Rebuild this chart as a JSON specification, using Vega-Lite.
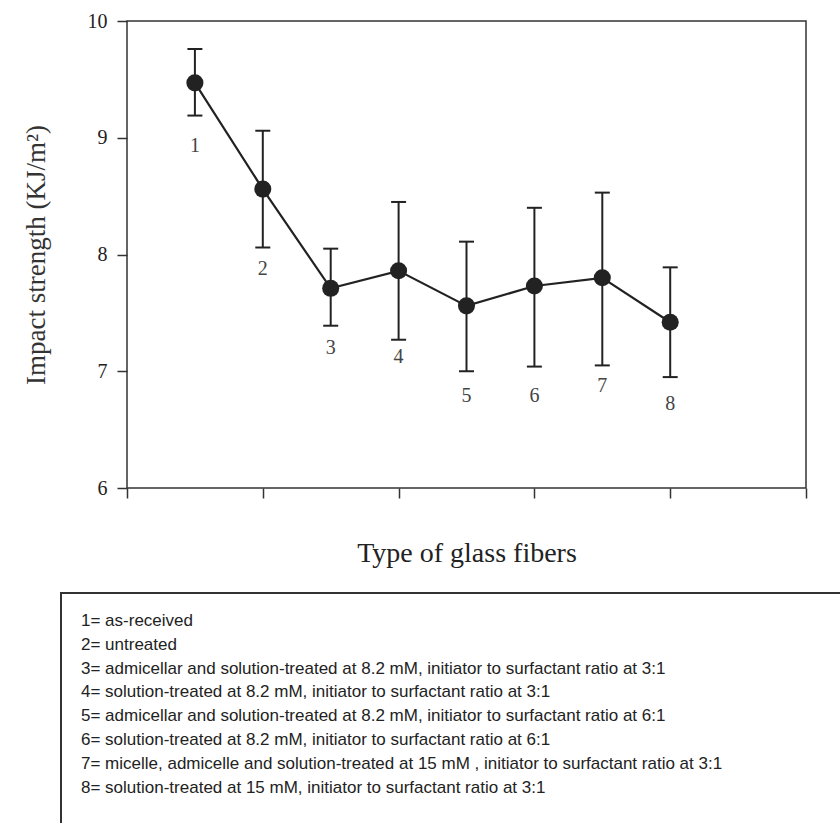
{
  "$schema": "https://vega.github.io/schema/vega-lite/v6.json",
  "padding": {"left": 21, "top": 10, "right": 0, "bottom": 0},
  "config": {
    "view": {"stroke": "#333333", "strokeWidth": 1.5},
    "font": "Liberation Serif",
    "axis": {"grid": false}
  },
  "datasets": {
    "pts": [
      {"type": "1", "x": 0.5, "mean": 9.47, "lo": 9.19, "hi": 9.76, "ly": 8.93},
      {"type": "2", "x": 1.0, "mean": 8.56, "lo": 8.06, "hi": 9.06, "ly": 7.875},
      {"type": "3", "x": 1.5, "mean": 7.71, "lo": 7.39, "hi": 8.05, "ly": 7.2},
      {"type": "4", "x": 2.0, "mean": 7.86, "lo": 7.27, "hi": 8.45, "ly": 7.12},
      {"type": "5", "x": 2.5, "mean": 7.56, "lo": 7.0, "hi": 8.11, "ly": 6.79},
      {"type": "6", "x": 3.0, "mean": 7.73, "lo": 7.04, "hi": 8.4, "ly": 6.79},
      {"type": "7", "x": 3.5, "mean": 7.8, "lo": 7.05, "hi": 8.53, "ly": 6.87},
      {"type": "8", "x": 4.0, "mean": 7.42, "lo": 6.95, "hi": 7.89, "ly": 6.72}
    ],
    "legend": [
      {"line": 1, "text": "1= as-received"},
      {"line": 2, "text": "2= untreated"},
      {"line": 3, "text": "3= admicellar and solution-treated at 8.2 mM, initiator to surfactant ratio at 3:1"},
      {"line": 4, "text": "4= solution-treated at 8.2 mM, initiator to surfactant ratio at 3:1"},
      {"line": 5, "text": "5= admicellar and solution-treated  at 8.2 mM, initiator to surfactant ratio at  6:1"},
      {"line": 6, "text": "6= solution-treated at 8.2 mM, initiator to surfactant ratio at 6:1"},
      {"line": 7, "text": "7= micelle, admicelle and solution-treated at 15 mM , initiator to surfactant ratio at  3:1"},
      {"line": 8, "text": "8= solution-treated at 15 mM, initiator to surfactant ratio at 3:1"}
    ]
  },
  "spacing": 23,
  "vconcat": [
    {
      "width": 679,
      "height": 467,
      "data": {"name": "pts"},
      "encoding": {
        "x": {
          "field": "x", "type": "quantitative",
          "scale": {"domain": [0, 5], "nice": false, "zero": false},
          "axis": {
            "values": [0, 1, 2, 3, 4, 5], "labels": false, "tickSize": 10,
            "tickColor": "#333333", "tickWidth": 1.5, "domain": false,
            "title": "Type of glass fibers", "titleFontSize": 28,
            "titleFontWeight": "normal", "titleColor": "#222222", "titlePadding": 41
          }
        }
      },
      "layer": [
        {
          "mark": {"type": "rule", "color": "#222222", "strokeWidth": 2},
          "encoding": {
            "y": {
              "field": "lo", "type": "quantitative",
              "scale": {"domain": [6, 10], "nice": false, "zero": false},
              "axis": {
                "values": [6, 7, 8, 9, 10], "format": "d", "tickSize": 10, "tickColor": "#333333",
                "tickWidth": 1.5, "labelFontSize": 20, "labelColor": "#222222",
                "labelPadding": 10, "domain": false,
                "title": "Impact strength (KJ/m²)", "titleFontSize": 27,
                "titleFontWeight": "normal", "titleColor": "#333333", "titlePadding": 37
              }
            },
            "y2": {"field": "hi"}
          }
        },
        {
          "mark": {"type": "tick", "orient": "horizontal", "size": 15, "thickness": 2, "color": "#222222", "opacity": 1},
          "encoding": {"y": {"field": "lo", "type": "quantitative"}}
        },
        {
          "mark": {"type": "tick", "orient": "horizontal", "size": 15, "thickness": 2, "color": "#222222", "opacity": 1},
          "encoding": {"y": {"field": "hi", "type": "quantitative"}}
        },
        {
          "mark": {"type": "line", "color": "#222222", "strokeWidth": 2.2},
          "encoding": {"y": {"field": "mean", "type": "quantitative"}}
        },
        {
          "mark": {"type": "point", "filled": true, "size": 290, "color": "#222222", "opacity": 1},
          "encoding": {"y": {"field": "mean", "type": "quantitative"}}
        },
        {
          "mark": {"type": "text", "fontSize": 20, "color": "#444444", "baseline": "middle", "align": "center"},
          "encoding": {
            "y": {"field": "ly", "type": "quantitative"},
            "text": {"field": "type"}
          }
        }
      ]
    },
    {
      "width": 712,
      "height": 230,
      "view": {"stroke": null},
      "data": {"name": "legend"},
      "encoding": {
        "x": {"datum": -0.0646, "type": "quantitative", "scale": {"domain": [0, 1], "nice": false, "zero": false}, "axis": null},
        "y": {
          "field": "line", "type": "quantitative",
          "scale": {"domain": [-0.176, 9.488], "reverse": true, "nice": false, "zero": false},
          "axis": null
        }
      },
      "layer": [
        {
          "mark": {"type": "rect", "fill": null, "stroke": "#333333", "strokeWidth": 1.5, "clip": false},
          "encoding": {
            "x": {"datum": -0.0927, "type": "quantitative"},
            "x2": {"datum": 1.03},
            "y": {"datum": -0.176, "type": "quantitative"},
            "y2": {"datum": 10.2}
          }
        },
        {
          "mark": {"type": "text", "align": "left", "baseline": "middle", "fontSize": 17, "font": "Liberation Sans Narrow, Liberation Sans", "color": "#222222"},
          "encoding": {"text": {"field": "text"}}
        }
      ]
    }
  ]
}
